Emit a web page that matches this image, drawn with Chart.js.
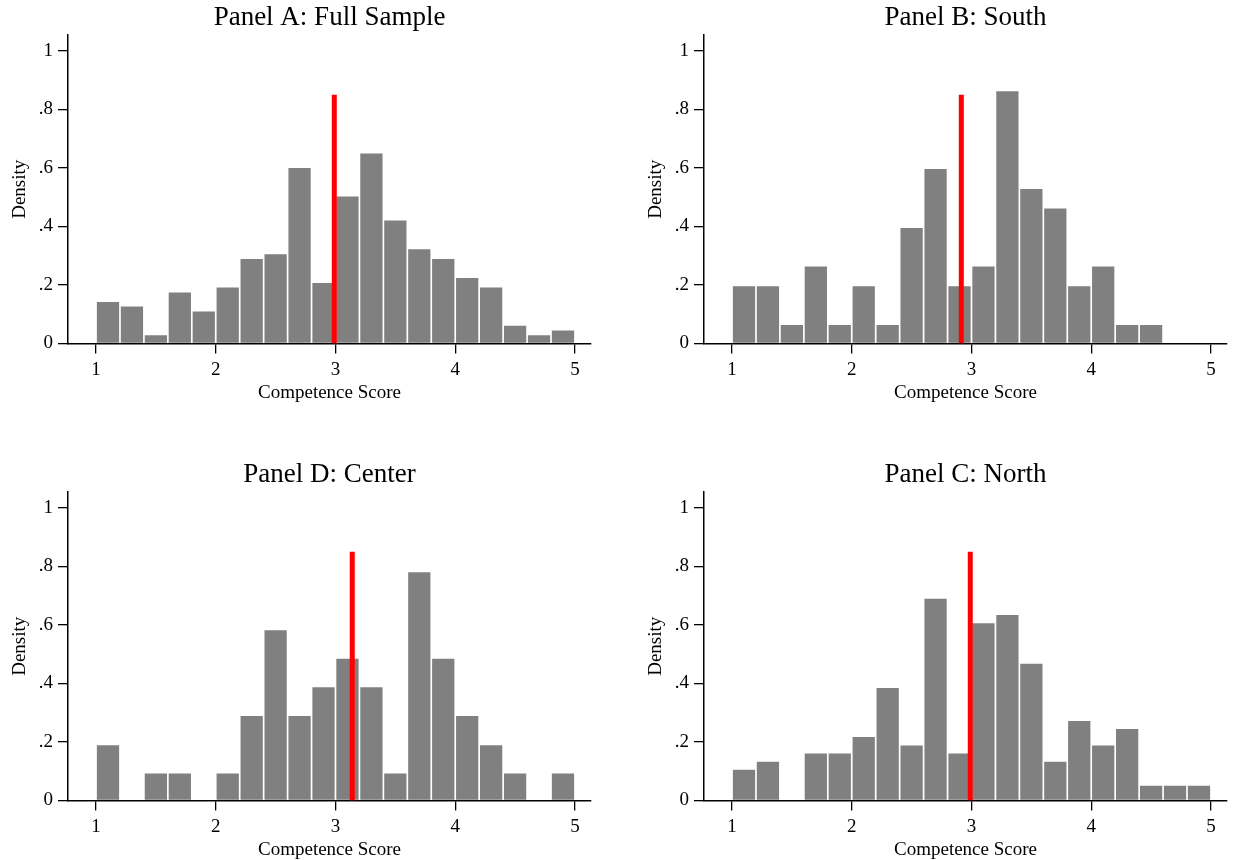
<!DOCTYPE html>
<html>
<head>
<meta charset="utf-8">
<script src="https://cdn.jsdelivr.net/npm/chart.js@4.4.1/dist/chart.umd.min.js"></script>
<style>
body { margin: 0; background: #fff; overflow: hidden; }
canvas { position: absolute; }
</style>
</head>
<body>
<canvas id="panelA" width="616" height="404" style="left:0;top:0"></canvas>
<canvas id="panelB" width="597" height="404" style="left:636px;top:0"></canvas>
<canvas id="panelD" width="616" height="404" style="left:0;top:457px"></canvas>
<canvas id="panelC" width="597" height="404" style="left:636px;top:457px"></canvas>
<script>
// bins of width .2 from 1 to 5 (centers)
var binCenters = [1.1, 1.3, 1.5, 1.7, 1.9, 2.1, 2.3, 2.5, 2.7, 2.9, 3.1, 3.3, 3.5, 3.7, 3.9, 4.1, 4.3, 4.5, 4.7, 4.9];
var xTicks = [1, 2, 3, 4, 5];
var yTicks = [0, 0.2, 0.4, 0.6, 0.8, 1];
var yTickLabels = ['0', '.2', '.4', '.6', '.8', '1'];

// density per bin
var fullSample = [0.142, 0.126, 0.028, 0.174, 0.109, 0.191, 0.289, 0.305, 0.600, 0.207, 0.502, 0.649, 0.420, 0.322, 0.289, 0.224, 0.191, 0.061, 0.028, 0.044];
var south = [0.196, 0.196, 0.063, 0.263, 0.063, 0.196, 0.063, 0.395, 0.596, 0.196, 0.263, 0.862, 0.528, 0.461, 0.196, 0.263, 0.063, 0.063, 0, 0];
var center = [0.189, 0, 0.092, 0.092, 0, 0.092, 0.289, 0.582, 0.289, 0.387, 0.484, 0.387, 0.092, 0.780, 0.484, 0.289, 0.189, 0.092, 0, 0.092];
var north = [0.105, 0.132, 0, 0.161, 0.161, 0.217, 0.384, 0.188, 0.689, 0.161, 0.606, 0.634, 0.467, 0.132, 0.272, 0.188, 0.244, 0.050, 0.050, 0.050];

// mean score (red line)
var meanFull = 2.99;
var meanSouth = 2.915;
var meanCenter = 3.14;
var meanNorth = 2.99;
var meanLineTop = 0.85;

var serif = "'Liberation Serif', 'Times New Roman', Times, serif";

function drawPanel(id, title, values, mean, padRight) {
    var ctx = document.getElementById(id).getContext('2d');
    var bars = binCenters.map(function (x, i) { return { x: x, y: values[i] }; });
    return new Chart(ctx, {
        type: 'bar',
        data: {
            datasets: [{
                type: 'line',
                data: [{ x: mean, y: 0 }, { x: mean, y: meanLineTop }],
                borderColor: '#ff0000',
                borderWidth: 5,
                borderCapStyle: 'butt',
                pointRadius: 0,
                order: 0
            }, {
                data: bars,
                backgroundColor: '#808080',
                barPercentage: 0.93,
                categoryPercentage: 1,
                order: 1
            }]
        },
        options: {
            responsive: false,
            animation: false,
            layout: { padding: { left: 0, right: padRight, top: 0, bottom: 0 } },
            plugins: {
                legend: { display: false },
                tooltip: { enabled: false },
                title: {
                    display: true,
                    text: title,
                    fullSize: false,
                    color: '#000',
                    font: { family: serif, size: 27, weight: 'normal', lineHeight: 1 },
                    padding: { top: 4, bottom: 4 }
                }
            },
            scales: {
                x: {
                    type: 'linear',
                    offset: false,
                    min: 0.766,
                    max: 5.134,
                    afterBuildTicks: function (s) { s.ticks = xTicks.map(function (v) { return { value: v }; }); },
                    afterFit: function (s) { s.height = 60.5; },
                    grid: { offset: false, drawOnChartArea: false, tickLength: 10, color: '#000', lineWidth: 1.3 },
                    border: { color: '#000', width: 1.5 },
                    ticks: { color: '#000', padding: 5, maxRotation: 0, font: { family: serif, size: 19 } },
                    title: {
                        display: true,
                        text: 'Competence Score',
                        color: '#000',
                        font: { family: serif, size: 19 },
                        padding: { top: 0, bottom: 0 }
                    }
                },
                y: {
                    min: 0,
                    max: 1.054,
                    afterBuildTicks: function (s) { s.ticks = yTicks.map(function (v) { return { value: v }; }); },
                    afterFit: function (s) { s.width = 68; },
                    grid: { drawOnChartArea: false, tickLength: 10, color: '#000', lineWidth: 1.3 },
                    border: { color: '#000', width: 1.5 },
                    ticks: {
                        color: '#000',
                        padding: 5,
                        font: { family: serif, size: 19 },
                        callback: function (v, i) { return yTickLabels[i]; }
                    },
                    title: {
                        display: true,
                        text: 'Density',
                        color: '#000',
                        font: { family: serif, size: 19 },
                        padding: { top: 8.6, bottom: 0 }
                    }
                }
            }
        }
    });
}

drawPanel('panelA', 'Panel A: Full Sample', fullSample, meanFull, 25);
drawPanel('panelB', 'Panel B: South', south, meanSouth, 6);
drawPanel('panelD', 'Panel D: Center', center, meanCenter, 25);
drawPanel('panelC', 'Panel C: North', north, meanNorth, 6);
</script>
</body>
</html>
